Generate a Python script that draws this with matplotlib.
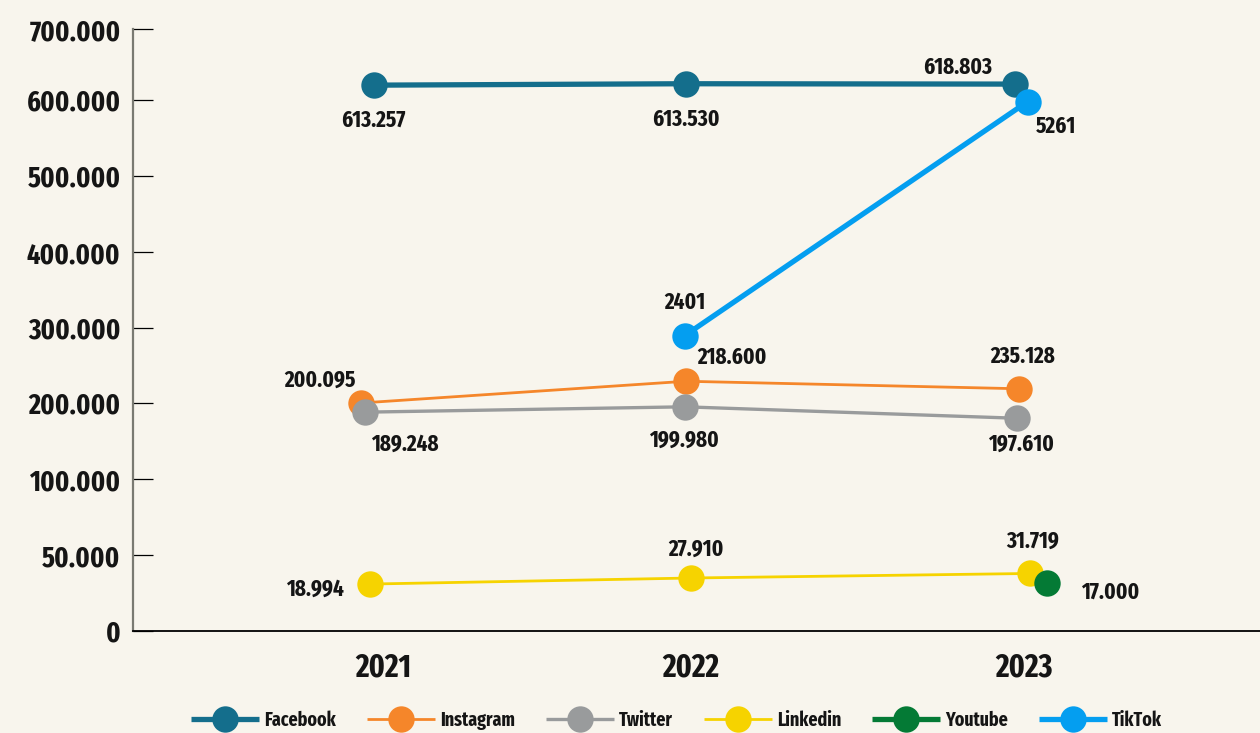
import numpy as np
import matplotlib
matplotlib.use("Agg")
import matplotlib.pyplot as plt
import matplotlib.font_manager as fm
from matplotlib.transforms import ScaledTranslation

# ---------------- data ----------------
years = [2021, 2022, 2023]

facebook_years = [2021, 2022, 2023]
facebook_values = [621000, 623000, 622500]
facebook_labels = ["613.257", "613.530", "618.803"]

instagram_years = [2021, 2022, 2023]
instagram_values = [200000, 229000, 219000]
instagram_labels = ["200.095", "218.600", "235.128"]

twitter_years = [2021, 2022, 2023]
twitter_values = [188000, 195000, 180000]
twitter_labels = ["189.248", "199.980", "197.610"]

linkedin_years = [2021, 2022, 2023]
linkedin_values = [31000, 35000, 38000]
linkedin_labels = ["18.994", "27.910", "31.719"]

youtube_years = [2023]
youtube_values = [31500]
youtube_labels = ["17.000"]

tiktok_years = [2022, 2023]
tiktok_values = [290000, 598000]
tiktok_labels = ["2401", "5261"]

ytick_values = [0, 50000, 100000, 200000, 300000, 400000, 500000, 600000, 700000]
ytick_labels = ["0", "50.000", "100.000", "200.000", "300.000", "400.000",
                "500.000", "600.000", "700.000"]
year_labels = ["2021", "2022", "2023"]

# ---------------- font selection (prefer a bold condensed face) ----------------
def _wt(w):
    if isinstance(w, (int, float)):
        return w
    return {"bold": 700, "heavy": 800, "black": 900, "semibold": 600,
            "demibold": 600, "extra bold": 800}.get(str(w).lower(), 400)

def pick_font():
    best = None
    for f in fm.fontManager.ttflist:
        name = (f.name + " " + f.fname).lower().replace("-", "").replace("_", "")
        st = str(f.stretch).lower()
        w = _wt(f.weight)
        if w < 650 or w > 760 or "italic" in name or f.style != "normal":
            continue
        score = None
        if "extracondensed" in name or "extra condensed" in name or st == "extra-condensed":
            score = 0
        elif "semicondensed" in name or "semi condensed" in name or st == "semi-condensed":
            score = 3
        elif "condensed" in name or st == "condensed":
            score = 1
        elif "narrow" in name:
            score = 2
        if score is None:
            continue
        if best is None or score < best[0]:
            best = (score, f.fname)
    return best[1] if best else None

FPATH = pick_font()

def fp(size):
    if FPATH:
        return fm.FontProperties(fname=FPATH, size=size)
    return fm.FontProperties(family="DejaVu Sans", weight="bold", size=size * 0.8)

# ---------------- style ----------------
BG = "#f8f5ed"
TXT = "#151515"

scale_pos = [0, 75.7, 151.7, 228.0, 303.0, 378.7, 455.0, 531.0, 601.7]

def fwd(v):
    return np.interp(v, ytick_values, scale_pos)

def inv(p):
    return np.interp(p, scale_pos, ytick_values)

series = [
    dict(name="Facebook", x=facebook_years, y=facebook_values, labels=facebook_labels,
         color="#146e8c", lw=3.8, dx=[0.018, -0.022, -0.009],
         off=[(-1, -35), (0, -36), (-57, 17)]),
    dict(name="Instagram", x=instagram_years, y=instagram_values, labels=instagram_labels,
         color="#f5862a", lw=2.0, dx=[-0.022, -0.022, 0.003],
         off=[(-41, 23), (46, 24), (4, 32)]),
    dict(name="Twitter", x=twitter_years, y=twitter_values, labels=twitter_labels,
         color="#999b9c", lw=2.4, dx=[-0.009, -0.025, -0.003],
         off=[(40, -32), (-1, -33), (4, -26)]),
    dict(name="Linkedin", x=linkedin_years, y=linkedin_values, labels=linkedin_labels,
         color="#f6d300", lw=2.0, dx=[0.006, -0.007, 0.037],
         off=[(-55, -5), (5, 29), (3, 32)]),
    dict(name="Youtube", x=youtube_years, y=youtube_values, labels=youtube_labels,
         color="#047a35", lw=3.8, dx=[0.09],
         off=[(63, -9)]),
    dict(name="TikTok", x=tiktok_years, y=tiktok_values, labels=tiktok_labels,
         color="#049ef0", lw=3.8, dx=[-0.025, 0.03],
         off=[(0, 33), (28, -25)]),
]

W, H = 1260, 733
fig = plt.figure(figsize=(W / 100, H / 100), dpi=100, facecolor=BG)
ax = fig.add_axes([133 / W, 102 / H, (W - 133) / W, 601.7 / H])
ax.set_facecolor(BG)
ax.set_yscale("function", functions=(fwd, inv))
ax.set_ylim(0, 700000)
ax.set_xlim(2020.2769, 2023.7446)

handles = []
for s in series:
    xs = [x + d for x, d in zip(s["x"], s["dx"])]
    ln, = ax.plot(xs, s["y"], color=s["color"], lw=s["lw"], marker="o",
                  markersize=19, markeredgewidth=0, clip_on=False,
                  solid_capstyle="butt", label=s["name"])
    handles.append(ln)
    for x, y, t, o in zip(xs, s["y"], s["labels"], s["off"]):
        ax.annotate(t, (x, y), xytext=o, textcoords="offset pixels",
                    ha="center", va="center", fontproperties=fp(16.5), color=TXT)

for side in ("top", "right"):
    ax.spines[side].set_visible(False)
ax.spines["left"].set_color("#7a7a72")
ax.spines["left"].set_linewidth(1.6)
ax.spines["bottom"].set_color("#000000")
ax.spines["bottom"].set_linewidth(1.3)

ax.set_yticks(ytick_values)
ax.set_yticklabels(ytick_labels)
ax.tick_params(axis="y", direction="in", length=14.4, width=0.9, color="black", pad=9)
for lab in ax.get_yticklabels():
    lab.set_fontproperties(fp(20.5))
    lab.set_color(TXT)
ax.set_xticks(years)
ax.set_xticklabels(year_labels)
ax.tick_params(axis="x", length=0, pad=15)
for lab, shift in zip(ax.get_xticklabels(), [15, -2, 6]):
    lab.set_fontproperties(fp(23))
    lab.set_color(TXT)
    lab.set_transform(lab.get_transform() + ScaledTranslation(shift / 100, 0, fig.dpi_scale_trans))

leg = fig.legend(handles=handles, loc="center", bbox_to_anchor=(0.537, 13 / H),
                 ncol=6, frameon=False, prop=fp(14), handlelength=3.5,
                 handletextpad=0.25, columnspacing=1.6, markerscale=1.0,
                 borderpad=0, borderaxespad=0)
for t in leg.get_texts():
    t.set_color(TXT)

fig.savefig("out.png", dpi=100, facecolor=BG)
